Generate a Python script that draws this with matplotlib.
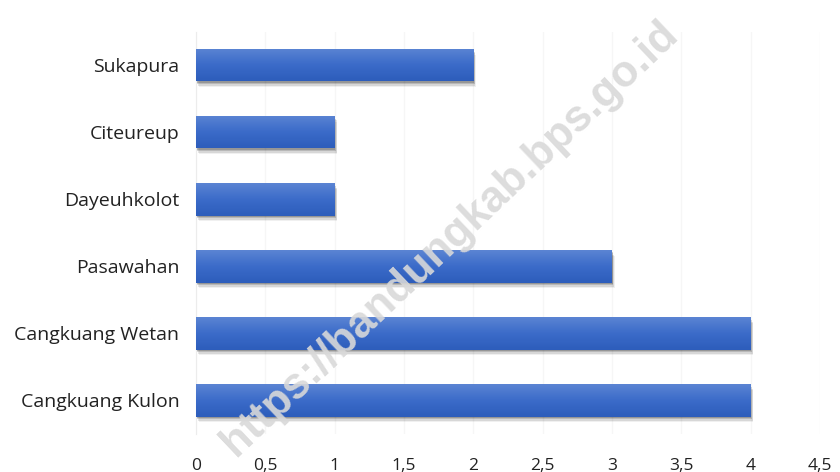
import numpy as np
import matplotlib
matplotlib.use("Agg")
from matplotlib import pyplot as plt
from matplotlib import transforms
from matplotlib.ticker import FuncFormatter
from matplotlib.colors import LinearSegmentedColormap

desa = ['Cangkuang Kulon', 'Cangkuang Wetan', 'Pasawahan', 'Dayeuhkolot', 'Citeureup', 'Sukapura']
jumlah = [4, 4, 3, 1, 1, 2]
xticks = [0, 0.5, 1, 1.5, 2, 2.5, 3, 3.5, 4, 4.5]

plt.rcParams['font.family'] = ['Open Sans', 'DejaVu Sans']

fig = plt.figure(figsize=(8.4, 4.72), dpi=100)
ax = fig.add_axes([0.2333, 0.0805, 0.7427, 0.852])

ypos = np.arange(len(desa))
bars = ax.barh(ypos, jumlah, height=0.48, color='none', zorder=3)

ax.set_xlim(0, 4.5)
ax.set_ylim(-0.5, len(desa) - 0.5)

# gradient fill + soft shadow per bar
cmap = LinearSegmentedColormap.from_list('bar', ['#5b84d3', '#3b6bc9', '#2d5dbb'])
grad = np.linspace(0, 1, 64).reshape(-1, 1)
for b in bars:
    x0, y0 = b.get_x(), b.get_y()
    w, h = b.get_width(), b.get_height()
    # blurred shadow: stacked offset rectangles (offsets in points)
    for dx, dy, a in [(0.5, -1.0, 0.18), (1.0, -2.0, 0.14), (1.5, -3.0, 0.10), (2.0, -4.0, 0.06)]:
        tr = transforms.offset_copy(ax.transData, fig=fig, x=dx, y=dy, units='points')
        ax.add_patch(plt.Rectangle((x0, y0), w, h, facecolor='black', edgecolor='none',
                                   alpha=a, transform=tr, zorder=2))
    im = ax.imshow(grad, cmap=cmap, aspect='auto', extent=(x0, x0 + w, y0, y0 + h),
                   origin='upper', zorder=3.5, interpolation='bilinear')
    im.set_clip_path(b)

ax.set_yticks(ypos)
ax.set_yticklabels(desa, fontsize=14, color='#222222')
ax.set_xticks(xticks)
ax.xaxis.set_major_formatter(FuncFormatter(lambda v, p: ('%g' % v).replace('.', ',')))
ax.tick_params(axis='x', length=0, pad=17, labelsize=12.5, labelcolor='#222222')
ax.tick_params(axis='y', length=0, pad=12)

ax.grid(axis='x', color='#f6f6f6', linewidth=1, zorder=0)
ax.set_axisbelow(True)
for s in ['top', 'right', 'bottom']:
    ax.spines[s].set_visible(False)
ax.spines['left'].set_color('#ececec')
ax.spines['left'].set_zorder(1)

# watermark
fig.text(0.535, 0.495, 'https://bandungkab.bps.go.id', fontsize=31.5, fontweight='bold',
         family='Liberation Sans', color='#d9d9d9', alpha=0.9, rotation=43.5,
         ha='center', va='center', zorder=10)

fig.savefig('out.png', dpi=100)
